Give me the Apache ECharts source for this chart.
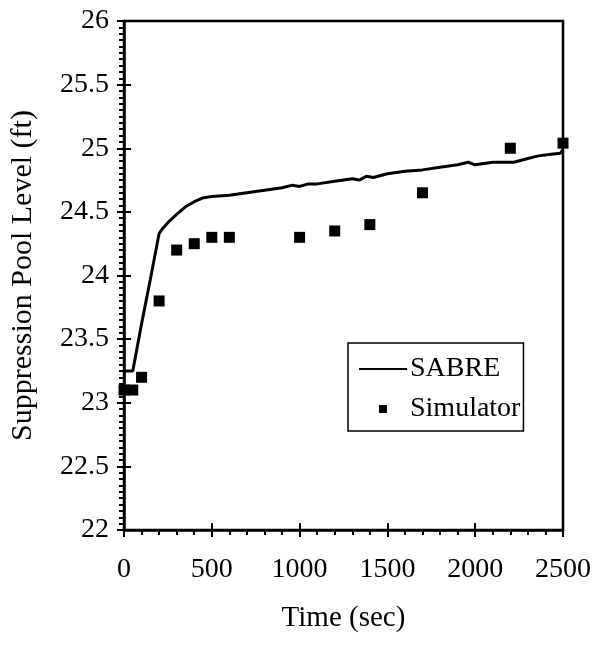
<!DOCTYPE html>
<html>
<head>
<meta charset="utf-8">
<script src="https://cdn.jsdelivr.net/npm/echarts@6/dist/echarts.min.js"></script>
<style>
  html, body { margin: 0; padding: 0; background: #fff; }
  #chart { width: 601px; height: 646px; }
</style>
</head>
<body>
<div id="chart"></div>
<script>
// SABRE calculation: [time (sec), level (ft)]
const sabre = [
  [0, 23.25], [50, 23.25], [100, 23.62], [150, 23.97], [200, 24.33],
  [220, 24.37], [260, 24.43], [300, 24.48], [350, 24.54], [400, 24.58],
  [450, 24.61], [500, 24.62], [600, 24.63], [700, 24.65], [800, 24.67],
  [900, 24.69], [960, 24.71], [1000, 24.70], [1050, 24.72], [1100, 24.72],
  [1200, 24.74], [1300, 24.76], [1340, 24.75], [1380, 24.78], [1420, 24.77],
  [1500, 24.80], [1600, 24.82], [1700, 24.83], [1800, 24.85], [1900, 24.87],
  [1960, 24.89], [2000, 24.87], [2100, 24.89], [2220, 24.89], [2300, 24.92],
  [2360, 24.94], [2420, 24.95], [2485, 24.96], [2500, 24.99]
];

// Simulator readings: [time (sec), level (ft)]
const simulator = [
  [0, 23.1], [50, 23.1], [100, 23.2], [200, 23.8], [300, 24.2],
  [400, 24.25], [500, 24.3], [600, 24.3], [1000, 24.3], [1200, 24.35],
  [1400, 24.4], [1700, 24.65], [2200, 25.0], [2500, 25.04]
];

const xRange = { min: 0, max: 2500, interval: 500 };
const yRange = { min: 22, max: 26, interval: 0.5 };

const FONT = "'Liberation Serif', 'Times New Roman', serif";
const INK = '#000';

const chart = echarts.init(document.getElementById('chart'), null, { renderer: 'canvas' });

const baseAxisLabel = { color: INK, fontFamily: FONT, fontSize: 28, formatter: v => String(v) };

chart.setOption({
  animation: false,
  backgroundColor: '#fff',
  grid: {
    left: 123, right: 38, top: 21, bottom: 116,
    show: true, borderColor: INK, borderWidth: 2.5, backgroundColor: 'transparent'
  },
  legend: {
    left: 348, top: 343,
    orient: 'vertical',
    backgroundColor: '#fff',
    borderColor: INK, borderWidth: 1.5, borderRadius: 0,
    padding: [12, 3, 8, 11],
    itemGap: 12,
    itemWidth: 48, itemHeight: 16,
    textStyle: { color: INK, fontFamily: FONT, fontSize: 28, padding: [0, 0, 0, -2] },
    data: [
      { name: 'SABRE', icon: 'path://M0,7h48v2h-48z M0,0 M48,16' },
      { name: 'Simulator', icon: 'path://M0,0 M48,16 M20,4h8v8h-8z' }
    ]
  },
  xAxis: [
    {
      type: 'value', gridIndex: 0, position: 'bottom',
      min: xRange.min, max: xRange.max, interval: xRange.interval,
      name: 'Time (sec)', nameLocation: 'middle', nameGap: 74,
      nameTextStyle: { color: INK, fontFamily: FONT, fontSize: 29 },
      axisLine: { show: true, onZero: false, lineStyle: { color: INK, width: 2.5 } },
      axisTick: { show: true, inside: false, length: 7, lineStyle: { color: INK, width: 2 } },
      minorTick: { show: true, splitNumber: 5, length: 5, lineStyle: { color: INK, width: 2 } },
      axisLabel: Object.assign({ margin: 26 }, baseAxisLabel),
      splitLine: { show: false }
    },
    {
      type: 'value', gridIndex: 0, position: 'bottom',
      min: xRange.min, max: xRange.max, interval: xRange.interval,
      axisLine: { show: false },
      axisTick: { show: true, inside: true, length: 7, lineStyle: { color: INK, width: 2 } },
      axisLabel: { show: false },
      splitLine: { show: false }
    }
  ],
  yAxis: [
    {
      type: 'value', gridIndex: 0, position: 'left',
      min: yRange.min, max: yRange.max, interval: yRange.interval,
      name: 'Suppression Pool Level (ft)', nameLocation: 'middle', nameGap: 86,
      nameTextStyle: { color: INK, fontFamily: FONT, fontSize: 30 },
      axisLine: { show: true, onZero: false, lineStyle: { color: INK, width: 2.5 } },
      axisTick: { show: true, inside: false, length: 7, lineStyle: { color: INK, width: 2 } },
      minorTick: { show: true, splitNumber: 10, length: 5, lineStyle: { color: INK, width: 2 } },
      axisLabel: Object.assign({ margin: 15 }, baseAxisLabel),
      splitLine: { show: false }
    },
    {
      type: 'value', gridIndex: 0, position: 'left',
      min: yRange.min, max: yRange.max, interval: yRange.interval,
      axisLine: { show: false },
      axisTick: { show: true, inside: true, length: 7, lineStyle: { color: INK, width: 2 } },
      axisLabel: { show: false },
      splitLine: { show: false }
    }
  ],
  series: [
    {
      name: 'SABRE', type: 'line', xAxisIndex: 0, yAxisIndex: 0,
      data: sabre, showSymbol: false, symbol: 'none', smooth: false,
      lineStyle: { color: INK, width: 3 },
      itemStyle: { color: INK },
      z: 3
    },
    {
      name: 'Simulator', type: 'scatter', xAxisIndex: 0, yAxisIndex: 0,
      data: simulator, symbol: 'rect', symbolSize: 11,
      itemStyle: { color: INK, opacity: 1 },
      z: 4
    }
  ]
});
</script>
</body>
</html>
